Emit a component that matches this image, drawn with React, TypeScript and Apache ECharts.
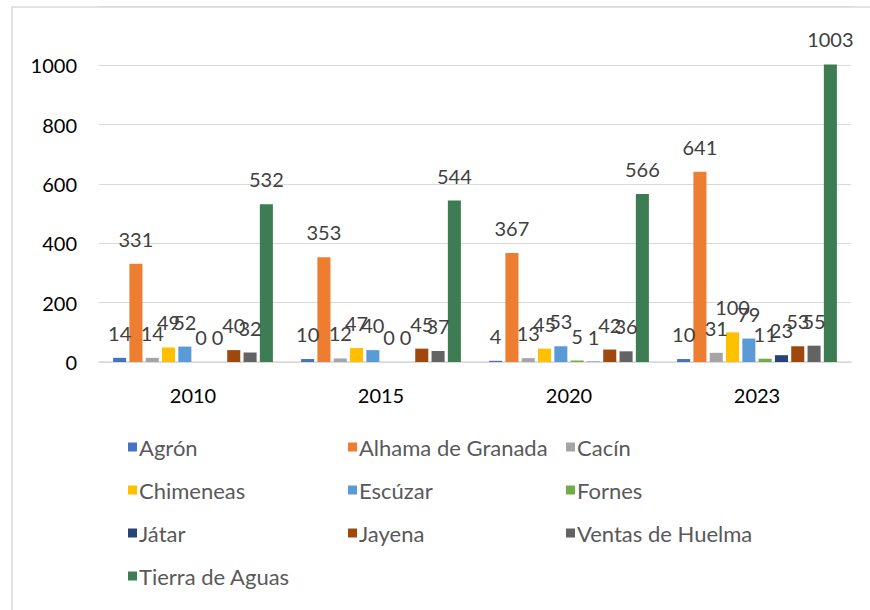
import React, { useEffect, useRef } from "react";
import * as echarts from "echarts";

const categories = ["2010", "2015", "2020", "2023"];
const seriesNames = [
  "Agrón",
  "Alhama de Granada",
  "Cacín",
  "Chimeneas",
  "Escúzar",
  "Fornes",
  "Játar",
  "Jayena",
  "Ventas de Huelma",
  "Tierra de Aguas",
];
const agron = [14, 10, 4, 10];
const alhama = [331, 353, 367, 641];
const cacin = [14, 12, 13, 31];
const chimeneas = [49, 47, 45, 100];
const escuzar = [52, 40, 53, 79];
const fornes = [0, 0, 5, 11];
const jatar = [0, 0, 1, 23];
const jayena = [40, 45, 42, 53];
const ventas = [32, 37, 36, 55];
const tierra = [532, 544, 566, 1003];
const seriesValues = [agron, alhama, cacin, chimeneas, escuzar, fornes, jatar, jayena, ventas, tierra];
const colors = [
  "#4472C4",
  "#ED7D31",
  "#A5A5A5",
  "#FFC000",
  "#5B9BD5",
  "#70AD47",
  "#264478",
  "#9E480E",
  "#636363",
  "#3E7D53",
];
const legendColumns = [
  ["Agrón", "Chimeneas", "Játar", "Tierra de Aguas"],
  ["Alhama de Granada", "Escúzar", "Jayena"],
  ["Cacín", "Fornes", "Ventas de Huelma"],
];

const FONT = "Lato, 'Noto Sans', sans-serif";

export default function App() {
  const ref = useRef<HTMLDivElement>(null);
  useEffect(() => {
    document.body.style.margin = "0";
    const chart = echarts.init(ref.current!, undefined, { renderer: "svg" });
    const legendLefts = [123, 343, 561];
    chart.setOption({
      animation: false,
      textStyle: { fontFamily: FONT },
      grid: { left: 99, right: 19, top: 6, bottom: 248 },
      graphic: [
        {
          type: "rect",
          shape: { x: 12, y: 7, width: 900, height: 700 },
          style: { fill: "none", stroke: "#d9d9d9", lineWidth: 1.5 },
          silent: true,
          z: -10,
        },
      ],
      legend: legendColumns.map((col, i) => ({
        data: col,
        orient: "vertical",
        left: legendLefts[i],
        top: 431,
        itemGap: 21,
        itemWidth: 9,
        itemHeight: 9,
        icon: "rect",
        selectedMode: false,
        textStyle: { fontFamily: FONT, fontSize: 22, color: "#595959", padding: [0, 0, 0, -3] },
      })),
      xAxis: {
        type: "category",
        data: categories,
        axisTick: { show: false },
        axisLine: { lineStyle: { color: "#d9d9d9", width: 1.5 } },
        axisLabel: { fontFamily: FONT, fontSize: 20, color: "#000", margin: 23 },
      },
      yAxis: {
        type: "value",
        min: 0,
        max: 1200,
        interval: 200,
        axisLine: { show: false },
        axisTick: { show: false },
        splitLine: { lineStyle: { color: "#d9d9d9", width: 1.2 } },
        axisLabel: {
          fontFamily: FONT,
          fontSize: 20,
          color: "#000",
          margin: 22,
          formatter: (v: number) => (v === 1200 ? "" : String(v)),
        },
      },
      series: seriesNames.map((name, i) => ({
        name,
        type: "bar",
        data: seriesValues[i],
        itemStyle: { color: colors[i] },
        barCategoryGap: "15%",
        barGap: "25%",
        label: {
          show: true,
          position: "top",
          distance: 15,
          fontFamily: FONT,
          fontSize: 20,
          color: "#404040",
        },
      })),
    });
    return () => chart.dispose();
  }, []);
  return <div ref={ref} style={{ width: 870, height: 610 }} />;
}
